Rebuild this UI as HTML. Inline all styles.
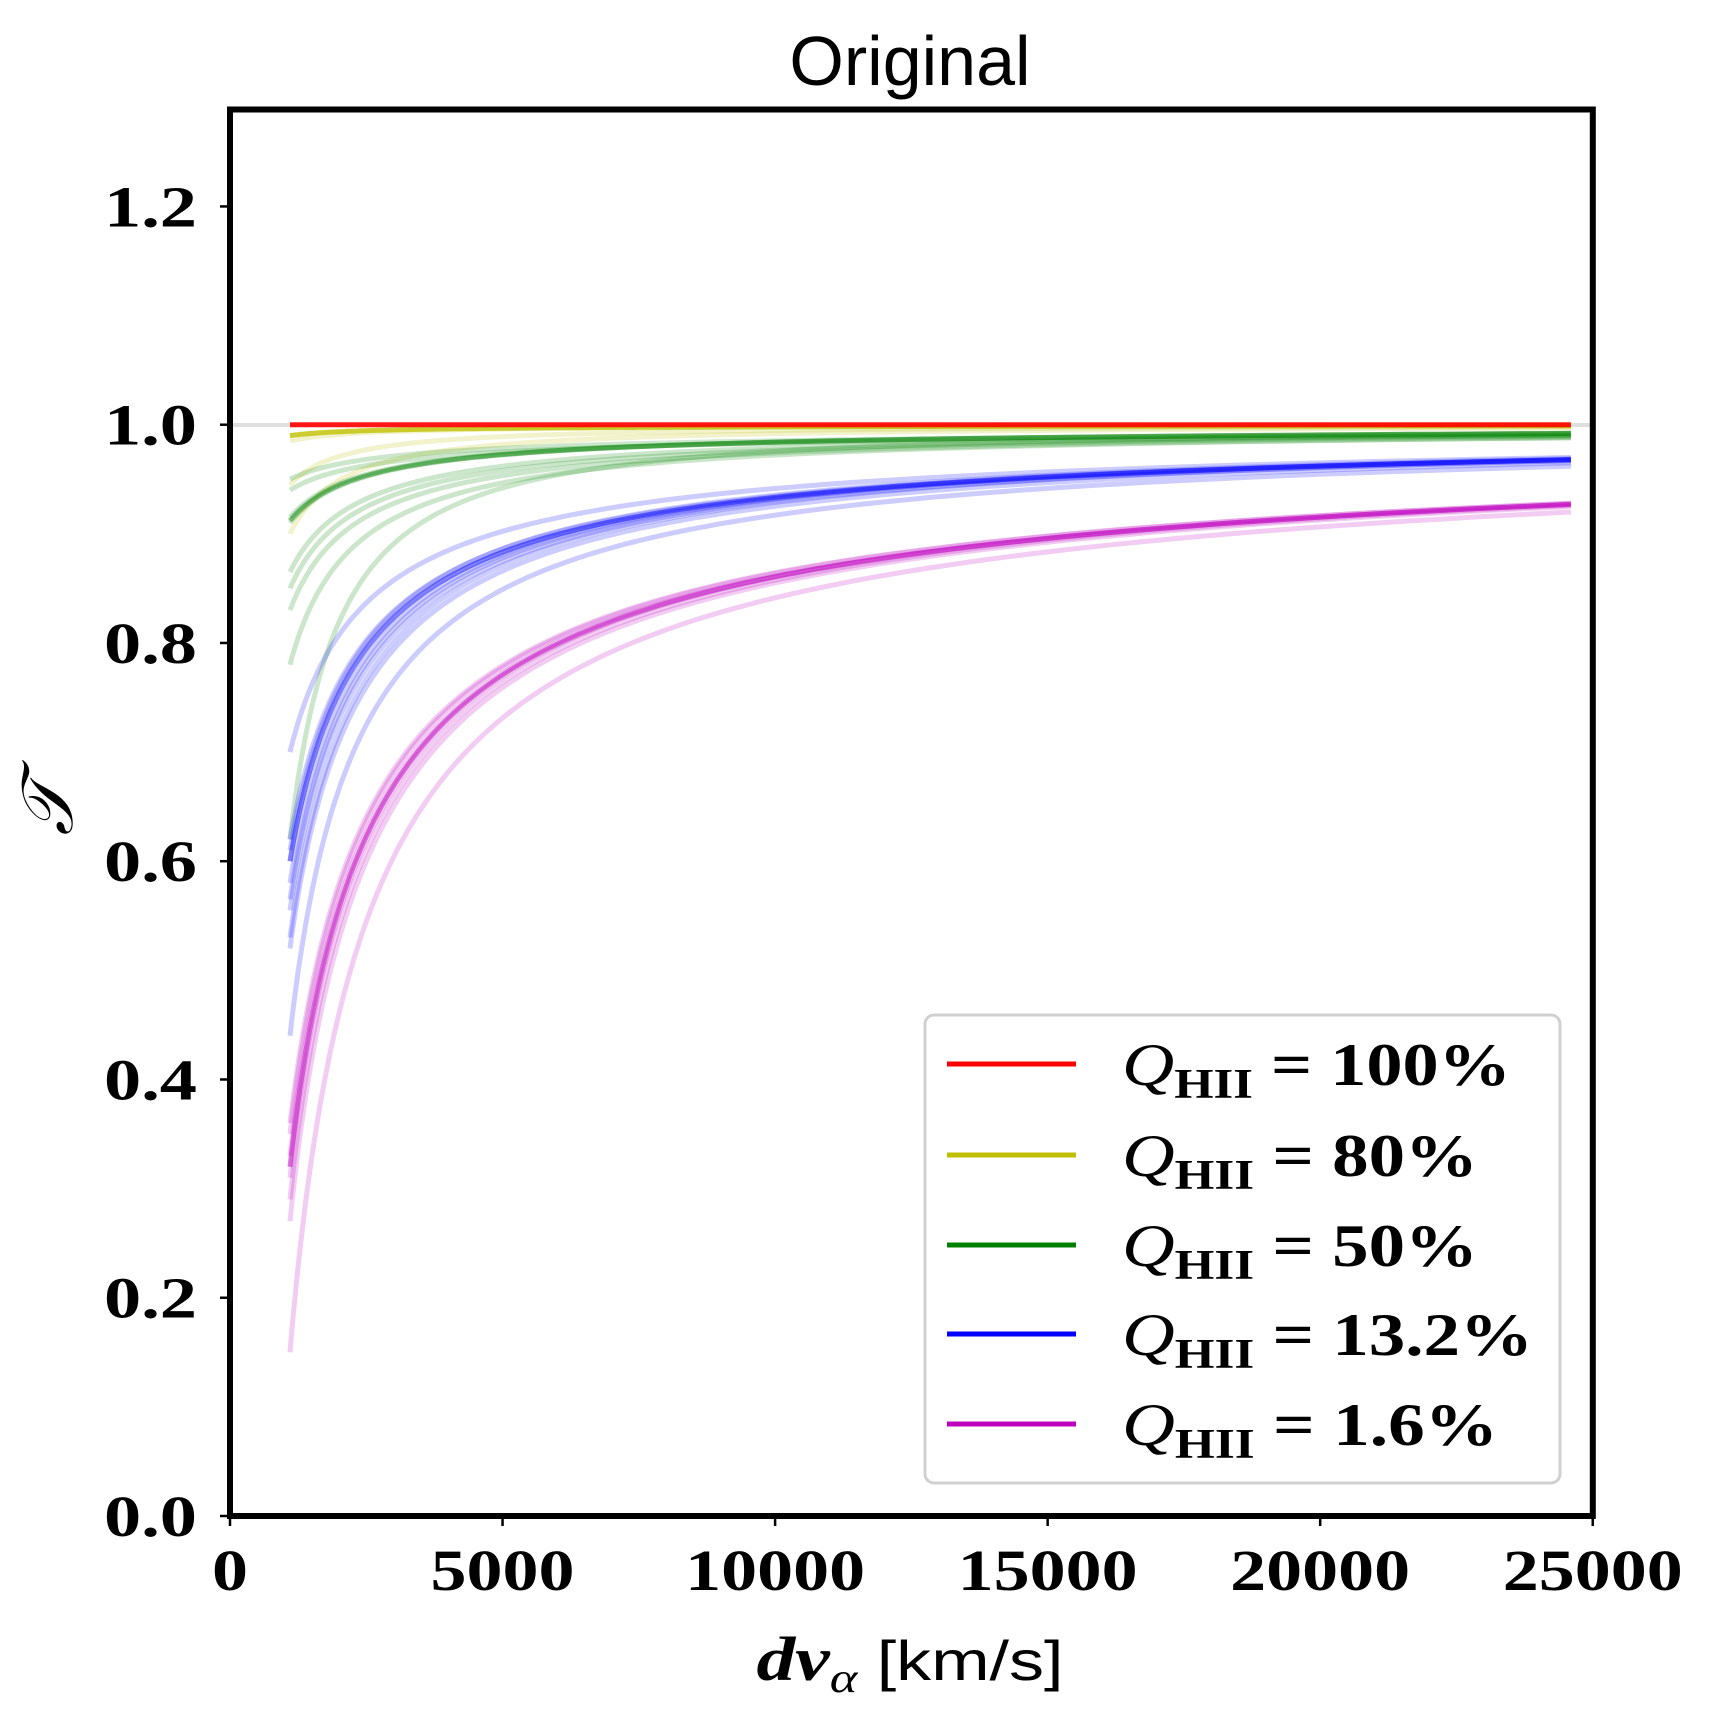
<!DOCTYPE html>
<html><head><meta charset="utf-8"><style>
html,body{margin:0;padding:0;background:#fff;}
svg{display:block;}
.tk{font-family:"Liberation Serif",serif;font-weight:bold;font-size:58px;fill:#000;}
.lg{font-family:"Liberation Serif",serif;font-size:60px;fill:#000;}
</style></head><body>
<svg id="s" width="1716" height="1716" viewBox="0 0 1716 1716" xmlns="http://www.w3.org/2000/svg">
<rect width="1716" height="1716" fill="#fff"/>
<text x="910" y="85" text-anchor="middle" font-family="Liberation Sans, sans-serif" font-size="70">Original</text>
<line x1="230" y1="425" x2="1593" y2="425" stroke="#e0e0e0" stroke-width="4"/>
<g id="curves"></g>
<!-- legend -->
<rect x="925" y="1015" width="635" height="468" rx="9" fill="#fff" fill-opacity="0.85" stroke="#d0d0d0" stroke-width="3"/>
<g stroke-width="5">
<line x1="947" y1="1064" x2="1076" y2="1064" stroke="#ff0000"/>
<line x1="947" y1="1155" x2="1076" y2="1155" stroke="#bfbf00"/>
<line x1="947" y1="1245" x2="1076" y2="1245" stroke="#008000"/>
<line x1="947" y1="1334" x2="1076" y2="1334" stroke="#0000ff"/>
<line x1="947" y1="1424" x2="1076" y2="1424" stroke="#bf00bf"/>
</g>
<g class="lg">
<text x="1122" y="1085" textLength="389" lengthAdjust="spacingAndGlyphs"><tspan font-style="italic">Q</tspan><tspan font-weight="bold" font-size="42" dy="13">HII</tspan><tspan dy="-13" font-weight="bold"> = 100%</tspan></text>
<text x="1122" y="1176" textLength="356" lengthAdjust="spacingAndGlyphs"><tspan font-style="italic">Q</tspan><tspan font-weight="bold" font-size="42" dy="13">HII</tspan><tspan dy="-13" font-weight="bold"> = 80%</tspan></text>
<text x="1122" y="1266" textLength="356" lengthAdjust="spacingAndGlyphs"><tspan font-style="italic">Q</tspan><tspan font-weight="bold" font-size="42" dy="13">HII</tspan><tspan dy="-13" font-weight="bold"> = 50%</tspan></text>
<text x="1122" y="1355" textLength="411" lengthAdjust="spacingAndGlyphs"><tspan font-style="italic">Q</tspan><tspan font-weight="bold" font-size="42" dy="13">HII</tspan><tspan dy="-13" font-weight="bold"> = 13.2%</tspan></text>
<text x="1122" y="1445" textLength="376" lengthAdjust="spacingAndGlyphs"><tspan font-style="italic">Q</tspan><tspan font-weight="bold" font-size="42" dy="13">HII</tspan><tspan dy="-13" font-weight="bold"> = 1.6%</tspan></text>
</g>
<!-- axes -->
<rect x="230" y="109.5" width="1362.8" height="1406.5" fill="none" stroke="#000" stroke-width="6"/>
<g stroke="#000" stroke-width="2.5" id="ticks"></g>
<g class="tk" id="labels"></g>
<text x="910" y="1680" text-anchor="middle" font-family="Liberation Serif, serif" font-size="62" textLength="307" lengthAdjust="spacingAndGlyphs"><tspan font-style="italic" font-weight="bold">dv</tspan><tspan font-style="italic" font-size="42" dy="12">α</tspan><tspan dy="-12" font-family="Liberation Sans, sans-serif" font-size="56"> [km/s]</tspan></text>
<text transform="translate(72,808) rotate(-90)" text-anchor="middle" font-family="Liberation Serif, serif" font-style="italic" font-size="72">𝒯</text>
</svg>
<script>
var X=function(v){return 230+v*0.05451;}, Y=function(t){return 1516-t*1091.3;};
var g=document.getElementById('curves'), ns="http://www.w3.org/2000/svg";
function curve(col,op,s,e){
  var c=1-s, ce=1-e; var p=(c<=0||ce<=0)?0:Math.log(c/ce)/Math.log(24600/1100);
  var d="";
  for(var i=0;i<=120;i++){var x=1100*Math.pow(24600/1100,i/120);
    var t=1-c*Math.pow(x/1100,-p); d+=(i?"L":"M")+X(x).toFixed(1)+","+Y(t).toFixed(1);}
  var el=document.createElementNS(ns,"path");
  el.setAttribute("d",d);el.setAttribute("fill","none");el.setAttribute("stroke",col);
  el.setAttribute("stroke-opacity",op);el.setAttribute("stroke-width","5");g.appendChild(el);
}
[[0.90,0.997],[0.945,0.998],[0.985,0.999]].forEach(function(a){curve("#bfbf00",0.2,a[0],a[1]);});
curve("#bfbf00",0.8,0.99,0.999);
[[0.62,0.992],[0.78,0.988],[0.83,0.988],[0.85,0.989],[0.865,0.99],[0.91,0.992],[0.915,0.992],[0.94,0.99],[0.95,0.991]].forEach(function(a){curve("#008000",0.2,a[0],a[1]);});
curve("#008000",0.45,0.912,0.992);
[[0.44,0.962],[0.52,0.965],[0.53,0.967],[0.555,0.967],[0.565,0.968],[0.58,0.968],[0.61,0.969],[0.62,0.968],[0.70,0.97]].forEach(function(a){curve("#0000ff",0.2,a[0],a[1]);});
curve("#0000ff",0.5,0.6,0.968);
[[0.15,0.92],[0.27,0.925],[0.29,0.926],[0.31,0.927],[0.33,0.927],[0.35,0.928],[0.36,0.928]].forEach(function(a){curve("#bf00bf",0.2,a[0],a[1]);});
curve("#bf00bf",0.5,0.32,0.927);
curve("#ff0000",0.9,1.0,1.0);
var tk=document.getElementById('ticks'), lb=document.getElementById('labels');
function ln(x1,y1,x2,y2){var l=document.createElementNS(ns,"line");l.setAttribute("x1",x1);l.setAttribute("y1",y1);l.setAttribute("x2",x2);l.setAttribute("y2",y2);tk.appendChild(l);}
function tx(x,y,s,a,w){var t=document.createElementNS(ns,"text");t.setAttribute("x",x);t.setAttribute("y",y);t.setAttribute("text-anchor",a);
  t.setAttribute("textLength",w);t.setAttribute("lengthAdjust","spacingAndGlyphs");t.textContent=s;lb.appendChild(t);}
[0,5000,10000,15000,20000,25000].forEach(function(v){ln(X(v),1516,X(v),1526);var s=String(v);tx(X(v),1590,s,"middle",s.length*36);});
[0,0.2,0.4,0.6,0.8,1.0,1.2].forEach(function(v){ln(220,Y(v),230,Y(v));tx(197,Y(v)+20,v.toFixed(1),"end",93);});
</script>
</body></html>
